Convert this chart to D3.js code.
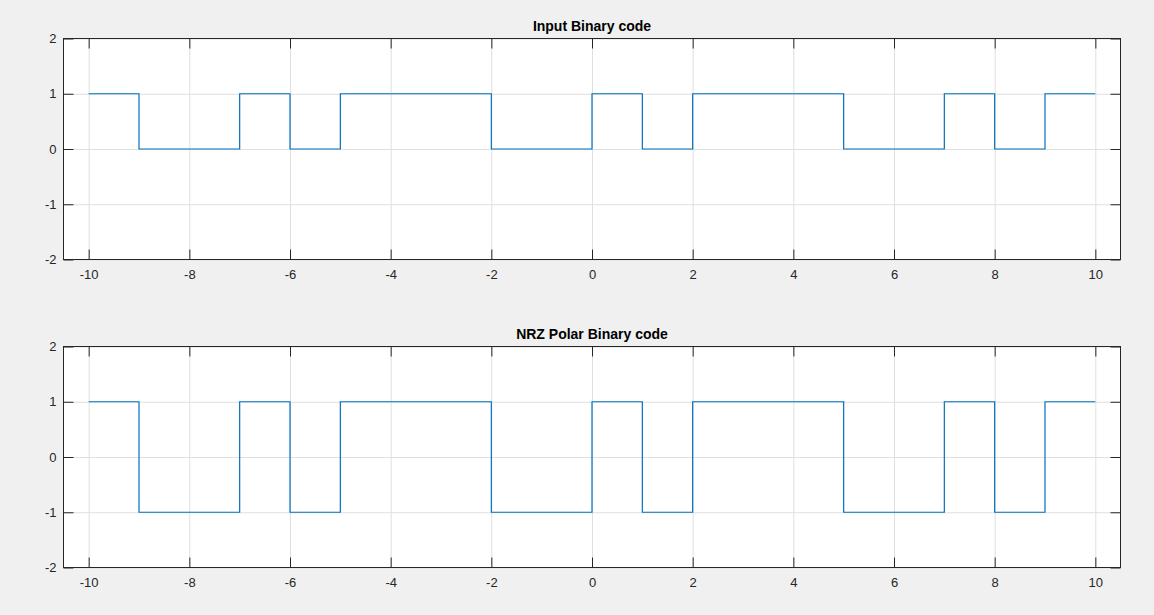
<!DOCTYPE html>
<html>
  <head>
    <meta charset="utf-8">
    <title></title>
  </head>
  <style>
  body{
      margin:0;
      background-color:#f0f0f0;
      font-family: "Liberation Sans", Arial, sans-serif;
  }
  .grid line{ stroke:#dfdfdf; stroke-width:1 }
  .grid path{ display:none }
  .tk line{ stroke:#262626; stroke-width:1 }
  .tk path{ display:none }
  .lbl text{ fill:#262626; font-size:13px }
  </style>
  <script src="https://d3js.org/d3.v7.min.js"></script>
  <body>
    <script>
    // bit sequence, one bit per unit of time from -10 to 10
    var bits = [1,0,0,1,0,1,1,1,0,0,1,0,1,1,1,0,0,1,0,1]
    var tStart = -10
    var xTicks = [-10,-8,-6,-4,-2,0,2,4,6,8,10]
    var yTicks = [-2,-1,0,1,2]
    var titles = ["Input Binary code", "NRZ Polar Binary code"]

    var W = 1154, H = 615
    var left = 63.5, right = 1120.5
    var tops = [38.5, 346.5]
    var plotH = 221

    // plain hyphen minus like the original
    var fmt = function(d){ return String(d) }

    var svg = d3.select("body").append("svg")
                .attr("width", W).attr("height", H)

    var xScale = d3.scaleLinear().domain([-10.5, 10.5]).range([left, right])

    // step points: input and polar versions
    var series = [
      bits.map(function(b, i){ return [tStart + i, b] }),
      bits.map(function(b, i){ return [tStart + i, b == 1 ? 1 : -1] })
    ]
    series.forEach(function(s){ s.push([tStart + bits.length, s[s.length-1][1]]) })

    titles.forEach(function(title, k){
        var top = tops[k]
        var yScale = d3.scaleLinear().domain([-2, 2]).range([top + plotH, top])
        var g = svg.append("g")

        g.append("rect")
         .attr("x", left).attr("y", top)
         .attr("width", right-left).attr("height", plotH)
         .attr("fill", "#fff")

        // gridlines
        g.append("g").attr("class","grid")
         .attr("transform","translate(0," + (top+plotH) + ")")
         .call(d3.axisBottom(xScale).tickValues(xTicks).tickSize(-plotH).tickFormat(""))
        g.append("g").attr("class","grid")
         .attr("transform","translate(" + left + ",0)")
         .call(d3.axisLeft(yScale).tickValues(yTicks).tickSize(-(right-left)).tickFormat(""))

        // signal
        var line = d3.line()
                     .curve(d3.curveStepAfter)
                     .x(function(d){ return xScale(d[0]) })
                     .y(function(d){ return yScale(d[1]) })
        g.append("path")
         .attr("d", line(series[k]))
         .attr("fill","none")
         .attr("stroke","#0072bd")
         .attr("stroke-width", 1.2)

        // inward tick marks on all four sides
        g.append("g").attr("class","tk")
         .attr("transform","translate(0," + (top+plotH) + ")")
         .call(d3.axisTop(xScale).tickValues(xTicks).tickSize(10).tickFormat(""))
        g.append("g").attr("class","tk")
         .attr("transform","translate(0," + top + ")")
         .call(d3.axisBottom(xScale).tickValues(xTicks).tickSize(10).tickFormat(""))
        g.append("g").attr("class","tk")
         .attr("transform","translate(" + left + ",0)")
         .call(d3.axisRight(yScale).tickValues(yTicks).tickSize(10).tickFormat(""))
        g.append("g").attr("class","tk")
         .attr("transform","translate(" + right + ",0)")
         .call(d3.axisLeft(yScale).tickValues(yTicks).tickSize(10).tickFormat(""))

        // tick labels
        var xl = g.append("g").attr("class","lbl")
         .attr("transform","translate(0," + (top+plotH) + ")")
         .call(d3.axisBottom(xScale).tickValues(xTicks).tickFormat(fmt).tickSize(0).tickPadding(10))
        xl.select(".domain").remove()
        var yl = g.append("g").attr("class","lbl")
         .attr("transform","translate(" + left + ",0)")
         .call(d3.axisLeft(yScale).tickValues(yTicks).tickFormat(fmt).tickSize(0).tickPadding(7))
        yl.select(".domain").remove()
        g.selectAll(".lbl text").attr("font-family", null).attr("font-size", null)

        // box
        g.append("rect")
         .attr("x", left).attr("y", top)
         .attr("width", right-left).attr("height", plotH)
         .attr("fill","none").attr("stroke","#262626").attr("stroke-width",1)

        g.append("text")
         .attr("x", (left+right)/2).attr("y", top - 8)
         .attr("text-anchor","middle")
         .attr("font-size","14px").attr("font-weight","bold")
         .attr("fill","#000")
         .text(title)
    })
    </script>
  </body>
</html>
